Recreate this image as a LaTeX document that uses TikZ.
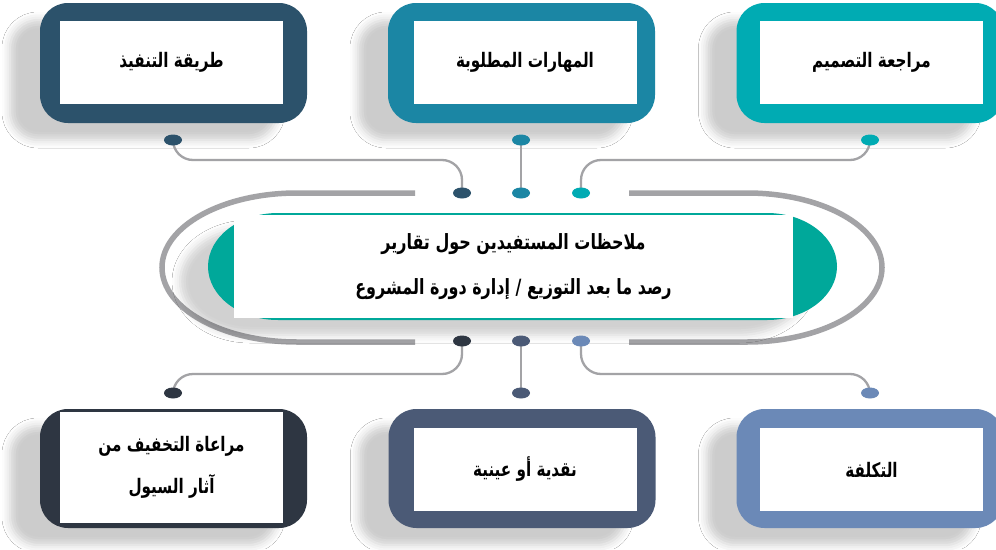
\documentclass[tikz,border=0pt]{standalone}
\usepackage{fontspec}
\TeXXeTstate=1
\newfontfamily\arfont[Script=Arabic,FakeStretch=0.76]{DejaVu Sans}
\usetikzlibrary{shapes.geometric,shadows.blur}
\definecolor{cTL}{HTML}{2C526B}
\definecolor{cTM}{HTML}{1B86A4}
\definecolor{cTR}{HTML}{00ABB3}
\definecolor{cBL}{HTML}{2E3642}
\definecolor{cBM}{HTML}{4B5A76}
\definecolor{cBR}{HTML}{6B89B7}
\definecolor{cCT}{HTML}{00A89A}
\definecolor{cGR}{HTML}{A3A3A6}
\tikzset{
  outerbox/.style={rectangle, rounded corners=28pt, minimum width=267pt, minimum height=120pt, inner sep=0pt,
    blur shadow={shadow xshift=-30pt, shadow yshift=-17pt, shadow blur radius=8pt, shadow opacity=20}},
  whitebox/.style={rectangle, fill=white, minimum width=223pt, inner sep=0pt, align=center,
    font=\arfont\bfseries\fontsize{20}{42}\selectfont, text=black},
  dotnode/.style={ellipse, minimum width=18pt, minimum height=11pt, inner sep=0pt},
  conn/.style={draw=cGR, line width=2.3pt},
  frame/.style={draw=cGR, line width=5.5pt},
}
\begin{document}
\begin{tikzpicture}[x=1pt,y=-1pt]
\useasboundingbox (0,0) rectangle (996,549);
\fill[white] (0,0) rectangle (996,549);

% top boxes
\node[outerbox, fill=cTL] (otl) at (173.5,63) {};
\node[outerbox, fill=cTM] (otm) at (521.5,63) {};
\node[outerbox, fill=cTR] (otr) at (870,63) {};
\node[whitebox, minimum height=83pt] (wtl) at (171.5,62.5) {\beginR طريقة التنفيذ\endR};
\node[whitebox, minimum height=83pt] (wtm) at (525,62.5) {\beginR المهارات المطلوبة\endR};
\node[whitebox, minimum height=83pt] (wtr) at (871.5,62.5) {\beginR مراجعة التصميم\endR};

% bottom boxes
\node[outerbox, fill=cBL, minimum height=119pt] (obl) at (173.5,468.5) {};
\node[outerbox, fill=cBM, minimum height=119pt] (obm) at (522,468.5) {};
\node[outerbox, fill=cBR, minimum height=119pt] (obr) at (870,468.5) {};
\node[whitebox, minimum height=111pt] (wbl) at (171.5,467.5) {\beginR مراعاة التخفيف من\endR\\\beginR آثار السيول\endR};
\node[whitebox, minimum height=83pt] (wbm) at (525,469.5) {\beginR نقدية أو عينية\endR};
\node[whitebox, minimum height=83pt] (wbr) at (871.5,469.5) {\beginR التكلفة\endR};

% big grey frame
\draw[frame] (415,193) -- (297,193) arc[start angle=-90, end angle=-270, x radius=135, y radius=74.5] -- (415,342);
\draw[frame] (629,193) -- (747,193) arc[start angle=-90, end angle=90, x radius=135, y radius=74.5] -- (629,342);

% central teal shape
\fill[cCT, blur shadow={shadow xshift=-28pt, shadow yshift=-15pt, shadow blur radius=8pt, shadow opacity=18}]
  (278,213) -- (767,213) arc[start angle=-90, end angle=90, x radius=70, y radius=53.5]
  -- (278,320) arc[start angle=90, end angle=270, x radius=70, y radius=53.5] -- cycle;
\node[rectangle, fill=white, minimum width=559pt, minimum height=103pt, inner sep=0pt, align=center,
  font=\arfont\bfseries\fontsize{21}{45}\selectfont] (center) at (513.5,266.5)
  {\beginR ملاحظات المستفيدين حول تقارير\endR\\\beginR رصد ما بعد التوزيع / إدارة دورة المشروع\endR};

% dots
\node[dotnode] (d1) at (173,140) {};
\node[dotnode] (d2) at (521,140) {};
\node[dotnode] (d3) at (870,140) {};
\node[dotnode] (d4) at (462,193) {};
\node[dotnode] (d5) at (521,193) {};
\node[dotnode] (d6) at (581,193) {};
\node[dotnode] (d7) at (462,341) {};
\node[dotnode] (d8) at (521,341) {};
\node[dotnode] (d9) at (581,341) {};
\node[dotnode] (d10) at (173,393) {};
\node[dotnode] (d11) at (521,393) {};
\node[dotnode] (d12) at (870,393) {};

% connectors
\draw[conn, rounded corners=20pt] (d1.center) -- ([yshift=-20pt]d1.center) -| (d4.center);
\draw[conn] (d2.center) -- (d5.center);
\draw[conn, rounded corners=20pt] (d3.center) -- ([yshift=-20pt]d3.center) -| (d6.center);
\draw[conn, rounded corners=20pt] (d7.center) -- ([yshift=-33pt]d7.center) -| (d10.center);
\draw[conn] (d8.center) -- (d11.center);
\draw[conn, rounded corners=20pt] (d9.center) -- ([yshift=-33pt]d9.center) -| (d12.center);

% dot fills on top
\fill[cTL] (d1.center) ellipse[x radius=9, y radius=5.5];
\fill[cTM] (d2.center) ellipse[x radius=9, y radius=5.5];
\fill[cTR] (d3.center) ellipse[x radius=9, y radius=5.5];
\fill[cTL] (d4.center) ellipse[x radius=9, y radius=5.5];
\fill[cTM] (d5.center) ellipse[x radius=9, y radius=5.5];
\fill[cTR] (d6.center) ellipse[x radius=9, y radius=5.5];
\fill[cBL] (d7.center) ellipse[x radius=9, y radius=5.5];
\fill[cBM] (d8.center) ellipse[x radius=9, y radius=5.5];
\fill[cBR] (d9.center) ellipse[x radius=9, y radius=5.5];
\fill[cBL] (d10.center) ellipse[x radius=9, y radius=5.5];
\fill[cBM] (d11.center) ellipse[x radius=9, y radius=5.5];
\fill[cBR] (d12.center) ellipse[x radius=9, y radius=5.5];
\end{tikzpicture}
\end{document}
